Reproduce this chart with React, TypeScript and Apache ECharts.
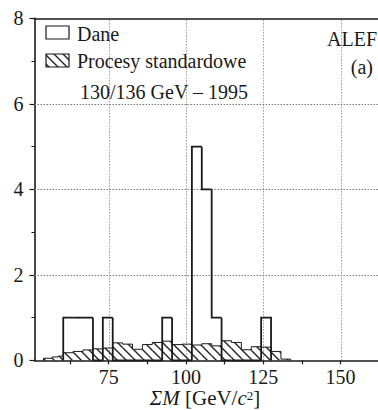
import React, { useEffect, useRef } from 'react';
import * as echarts from 'echarts';

// ---- data ----
const xTickLabels = [75, 100, 125, 150];
const xTickValues = [62.5, 75, 87.5, 100, 112.5, 125, 137.5, 150, 162.5];
const yGridValues = [2, 4, 6];
const binWidth = 3.2;
const dataStart = 60.3;
const dataCounts = [1, 1, 1, 0, 1, 0, 0, 0, 0, 0, 1, 0, 0, 5, 4, 1, 0, 0, 0, 0, 1];
const mcEdges = [53.9, 56.7, 58.6, 60.3, 63.5, 66.7, 69.9, 73.1, 76.3, 79.5, 82.7, 85.9, 89.1, 92.3, 95.5, 98.7, 101.9, 105.1, 108.3, 111.5, 114.7, 117.9, 121.1, 124.3, 127.5, 130.7, 133.9];
const mcValues = [0.05, 0.08, 0.1, 0.18, 0.21, 0.245, 0.27, 0.29, 0.41, 0.38, 0.26, 0.37, 0.42, 0.45, 0.37, 0.38, 0.36, 0.39, 0.34, 0.46, 0.42, 0.25, 0.32, 0.31, 0.21, 0.03];
const legendLabels = ['Dane', 'Procesy standardowe'];
const noteText = '130/136 GeV – 1995';
const expText = 'ALEF';
const panelText = '(a)';

const FONT = "'Liberation Serif', 'DejaVu Serif', serif";
const INK = '#1a1a1a';
const GRID = '#666666';
const FS = 20;
const X_MIN = 51;
const X_MAX = 165;
const Y_MAX = 8;

function makeHatch() {
  const s = 9;
  const c = document.createElement('canvas');
  c.width = s;
  c.height = s;
  const ctx = c.getContext('2d')!;
  ctx.strokeStyle = '#222';
  ctx.lineWidth = 1.4;
  ctx.beginPath();
  ctx.moveTo(-1, -1);
  ctx.lineTo(s + 1, s + 1);
  ctx.moveTo(-2, s - 2);
  ctx.lineTo(2, s + 2);
  ctx.moveTo(s - 2, -2);
  ctx.lineTo(s + 2, 2);
  ctx.stroke();
  return { image: c, repeat: 'repeat', imageWidth: s, imageHeight: s } as any;
}

const snap = (v: number) => Math.round(v) + 0.5;

export default function App() {
  const ref = useRef<HTMLDivElement>(null);
  useEffect(() => {
    if (!ref.current) return;
    const chart = echarts.init(ref.current, undefined, { renderer: 'svg' });
    const hatch = makeHatch();

    const dataItems = dataCounts.map((v, i) => [
      dataStart + i * binWidth,
      dataStart + (i + 1) * binWidth,
      v,
      i > 0 ? dataCounts[i - 1] : 0,
      i === dataCounts.length - 1 ? 1 : 0,
    ]);
    const mcItems = mcValues.map((v, i) => [
      mcEdges[i],
      mcEdges[i + 1],
      v,
      i > 0 ? mcValues[i - 1] : 0,
      i === mcValues.length - 1 ? 1 : 0,
    ]);
    const vGridItems = xTickLabels.map((v) => [v, 0]);
    const hGridItems = yGridValues.map((v) => [X_MIN, v]);

    const stepRender = (withFill: boolean, lw: number) => (params: any, api: any) => {
      const x0 = api.value(0);
      const x1 = api.value(1);
      const v = api.value(2);
      const prev = api.value(3);
      const last = api.value(4);
      const pPrev = api.coord([x0, prev]);
      const pTL = api.coord([x0, v]);
      const pTR = api.coord([x1, v]);
      const pBR = api.coord([x1, 0]);
      const pts = [pPrev, pTL, pTR];
      if (last) pts.push(pBR);
      const children: any[] = [];
      if (withFill) {
        children.push({
          type: 'rect',
          shape: { x: pTL[0], y: pTL[1], width: pTR[0] - pTL[0], height: pBR[1] - pTR[1] },
          style: { fill: hatch, stroke: null },
        });
      }
      children.push({
        type: 'polyline',
        shape: { points: pts },
        style: { fill: null, stroke: INK, lineWidth: lw },
      });
      return { type: 'group', children };
    };

    const option: any = {
      animation: false,
      grid: { left: 34.5, right: -9, top: 18.4, bottom: 49.6, containLabel: false, outerBoundsMode: 'none' },
      xAxis: [
        {
          type: 'value',
          min: X_MIN,
          max: X_MAX,
          axisLine: { show: true, onZero: false, lineStyle: { color: INK, width: 1.6 } },
          axisTick: { show: true, customValues: xTickValues, length: 4, lineStyle: { color: INK, width: 1.2 } },
          axisLabel: { customValues: xTickLabels, fontSize: FS, fontFamily: FONT, color: INK, margin: 7 },
          splitLine: { show: false },
        },
        {
          type: 'value',
          position: 'top',
          min: X_MIN,
          max: X_MAX,
          axisLine: { show: true, onZero: false, lineStyle: { color: INK, width: 1.6 } },
          axisTick: { show: false },
          axisLabel: { show: false },
          splitLine: { show: false },
        },
      ],
      yAxis: {
        type: 'value',
        min: 0,
        max: Y_MAX,
        interval: 2,
        axisLine: { show: true, lineStyle: { color: INK, width: 1.6 } },
        axisTick: { show: true, length: 5, lineStyle: { color: INK, width: 1.2 } },
        minorTick: { show: true, splitNumber: 2, length: 3, lineStyle: { color: INK, width: 1 } },
        axisLabel: { fontSize: FS, fontFamily: FONT, color: INK, margin: 11 },
        splitLine: { show: false },
      },
      series: [
        {
          type: 'custom',
          name: 'vgrid',
          silent: true,
          z: 1,
          data: vGridItems,
          encode: { x: 0, y: 1 },
          renderItem: (params: any, api: any) => {
            const x = api.value(0);
            const a = api.coord([x, 0]);
            const b = api.coord([x, Y_MAX]);
            const sx = snap(a[0]);
            return { type: 'line', shape: { x1: sx, y1: a[1], x2: sx, y2: b[1] }, style: { stroke: GRID, lineWidth: 1, lineDash: [1, 2] } };
          },
        },
        {
          type: 'custom',
          name: 'hgrid',
          silent: true,
          z: 1,
          data: hGridItems,
          encode: { x: 0, y: 1 },
          renderItem: (params: any, api: any) => {
            const y = api.value(1);
            const a = api.coord([X_MIN, y]);
            const b = api.coord([X_MAX, y]);
            const sy = snap(a[1]);
            return {
              type: 'polyline',
              shape: { points: [[a[0], sy], [b[0], sy]] },
              style: { stroke: '#7a7a7a', fill: null, lineWidth: 1, lineDash: [1.5, 1.5] },
            };
          },
        },
        {
          type: 'custom',
          name: legendLabels[1],
          z: 2,
          data: mcItems,
          encode: { x: [0, 1], y: 2 },
          renderItem: stepRender(true, 1),
        },
        {
          type: 'custom',
          name: legendLabels[0],
          z: 3,
          data: dataItems,
          encode: { x: [0, 1], y: 2 },
          renderItem: stepRender(false, 1.8),
        },
      ],
      graphic: [
        { type: 'rect', shape: { x: 46, y: 26, width: 23, height: 13 }, style: { fill: '#fff', stroke: INK, lineWidth: 1.2 }, z: 10 },
        { type: 'text', x: 77, y: 33.5, style: { text: legendLabels[0], font: `${FS}px ${FONT}`, fill: INK, verticalAlign: 'middle' }, z: 10 },
        { type: 'rect', shape: { x: 46, y: 54, width: 23, height: 13 }, style: { fill: hatch, stroke: INK, lineWidth: 1.2 }, z: 10 },
        { type: 'text', x: 77, y: 60.5, style: { text: legendLabels[1], font: `${FS}px ${FONT}`, fill: INK, verticalAlign: 'middle' }, z: 10 },
        { type: 'text', x: 80, y: 92, style: { text: noteText, font: `${FS}px ${FONT}`, fill: INK, verticalAlign: 'middle' }, z: 10 },
        { type: 'text', x: 377, y: 38.5, style: { text: expText, font: `${FS}px ${FONT}`, fill: INK, align: 'right', verticalAlign: 'middle' }, z: 10 },
        { type: 'text', x: 373, y: 67, style: { text: panelText, font: `${FS}px ${FONT}`, fill: INK, align: 'right', verticalAlign: 'middle' }, z: 10 },
        {
          type: 'text',
          x: 205,
          y: 398,
          z: 10,
          style: {
            text: '{i|ΣM}{n| [GeV/}{i|c}{s|2}{n|]}',
            align: 'center',
            verticalAlign: 'middle',
            font: `21px ${FONT}`,
            fill: INK,
            rich: {
              n: { fontSize: 21, fontFamily: FONT, fill: INK, lineHeight: 18 },
              i: { fontStyle: 'italic', fontSize: 21, fontFamily: FONT, fill: INK, lineHeight: 18 },
              s: { fontSize: 13, fontFamily: FONT, fill: INK, verticalAlign: 'top', lineHeight: 12 },
            },
          },
        },
      ],
    };
    chart.setOption(option);
    return () => chart.dispose();
  }, []);
  return (
    <div
      ref={ref}
      style={{ position: 'fixed', left: 0, top: 0, width: 378, height: 410, background: '#fff' }}
    />
  );
}
